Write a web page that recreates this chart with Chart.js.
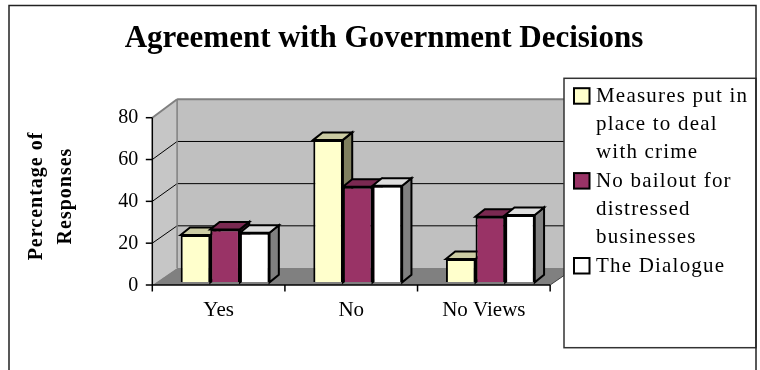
<!DOCTYPE html>
<html>
<head>
<meta charset="utf-8">
<script src="https://cdn.jsdelivr.net/npm/chart.js@4/dist/chart.umd.min.js"></script>
<style>
  html, body { margin: 0; padding: 0; background: #ffffff; }
  canvas { display: block; }
</style>
</head>
<body>
<canvas id="chart" width="760" height="370"></canvas>
<script>
// ---- data ----
const chartTitle = 'Agreement with Government Decisions';
const axisTitleLines = ['Percentage of', 'Responses'];
const categories = ['Yes', 'No', 'No Views'];
const yTicks = [0, 20, 40, 60, 80];
const crimeMeasures = [22.6, 68.1, 11.1];
const noBailout = [25.3, 45.7, 31.4];
const dialogue = [23.7, 46.2, 32.2];
const seriesNames = [
  ['Measures put in', 'place to deal', 'with crime'],
  ['No bailout for', 'distressed', 'businesses'],
  ['The Dialogue']
];

// ---- styles ----
const SERIF = '"Liberation Serif", "Times New Roman", Times, serif';
const faceColors = ['#FFFFCC', '#993366', '#FFFFFF'];
const topColors = ['#CCCCA3', '#7A2951', '#DEDEDE'];
const sideColors = ['#80805F', '#4D1A33', '#808080'];

const DEPTH_X = 9.3, DEPTH_Y = -7.5;   // extrusion of each column
const FRONT_DX = -6.5, FRONT_DY = 2.7; // front plane of the box relative to the columns
const BACK_DX = 18.3;                  // back wall relative to the columns

function poly(ctx, pts, fill, stroke, lw) {
  ctx.beginPath();
  ctx.moveTo(pts[0][0], pts[0][1]);
  for (let i = 1; i < pts.length; i++) ctx.lineTo(pts[i][0], pts[i][1]);
  ctx.closePath();
  if (fill) { ctx.fillStyle = fill; ctx.fill(); }
  if (stroke) { ctx.strokeStyle = stroke; ctx.lineWidth = lw || 1; ctx.stroke(); }
}
function line(ctx, x1, y1, x2, y2, color, lw) {
  ctx.beginPath();
  ctx.moveTo(x1, y1);
  ctx.lineTo(x2, y2);
  ctx.strokeStyle = color;
  ctx.lineWidth = lw;
  ctx.stroke();
}

const box3d = {
  id: 'box3d',
  beforeDraw(chart) {
    const ctx = chart.ctx;
    ctx.save();
    ctx.fillStyle = '#ffffff';
    ctx.fillRect(0, 0, chart.width, chart.height);
    ctx.restore();
  },
  beforeDatasetsDraw(chart) {
    const ctx = chart.ctx, xs = chart.scales.x, ys = chart.scales.y, a = chart.chartArea;
    const vMax = yTicks[yTicks.length - 1];
    const fy = v => ys.getPixelForValue(v) + FRONT_DY;
    const by = v => ys.getPixelForValue(v) - 14.3 - 1.4 * v / vMax;
    const fL = a.left + FRONT_DX, fR = a.right + FRONT_DX;
    const bL = a.left + BACK_DX, bR = a.right + BACK_DX;
    ctx.save();

    // walls and floor
    poly(ctx, [[bL, by(vMax)], [bR, by(vMax)], [bR, by(0)], [bL, by(0)]], '#C0C0C0');
    poly(ctx, [[fL, fy(vMax)], [bL, by(vMax)], [bL, by(0)], [fL, fy(0)]], '#C6C6C6');
    poly(ctx, [[fL, fy(0)], [bL, by(0)], [bR, by(0)], [fR, fy(0)]], '#808080');

    // gridlines across side wall and back wall
    yTicks.slice(1, -1).forEach(v => {
      line(ctx, fL, fy(v), bL, by(v), '#000000', 1);
      line(ctx, bL, by(v), bR, by(v), '#000000', 1);
    });
    // wall edges
    line(ctx, fL, fy(vMax), bL, by(vMax), '#808080', 2);
    line(ctx, bL, by(vMax), bR, by(vMax), '#808080', 2);
    line(ctx, bL, by(vMax), bL, by(0), '#808080', 1.5);
    line(ctx, fR, fy(0), bR, by(0), '#404040', 1);

    // value axis
    line(ctx, fL, fy(0), fL, fy(vMax), '#000000', 1.5);
    yTicks.forEach(v => line(ctx, fL - 6.5, fy(v), fL, fy(v), '#000000', 1.5));
    // category axis
    line(ctx, fL, fy(0), fR, fy(0), '#000000', 1.5);
    const catW = (a.right - a.left) / categories.length;
    for (let i = 0; i <= categories.length; i++) {
      const x = fL + i * catW;
      line(ctx, x, fy(0), x, fy(0) + 6.5, '#000000', 1.5);
    }

    // column tops and sides, left to right inside each group
    ctx.lineJoin = 'miter';
    categories.forEach((c, i) => {
      chart.data.datasets.forEach((ds, d) => {
        const el = chart.getDatasetMeta(d).data[i];
        const p = el.getProps(['x', 'y', 'base', 'width'], true);
        const l = p.x - p.width / 2, r = p.x + p.width / 2;
        poly(ctx, [[r, p.y], [r + DEPTH_X, p.y + DEPTH_Y], [r + DEPTH_X, p.base + DEPTH_Y], [r, p.base]],
          sideColors[d], '#000000', 2);
        poly(ctx, [[l, p.y], [l + DEPTH_X, p.y + DEPTH_Y], [r + DEPTH_X, p.y + DEPTH_Y], [r, p.y]],
          topColors[d], '#000000', 2);
      });
    });
    ctx.restore();
  },
  afterDraw(chart) {
    const ctx = chart.ctx, xs = chart.scales.x, ys = chart.scales.y, a = chart.chartArea;
    const fy = v => ys.getPixelForValue(v) + FRONT_DY;
    const fL = a.left + FRONT_DX;
    ctx.save();
    ctx.fillStyle = '#000000';

    // tick labels
    ctx.font = '20px ' + SERIF;
    ctx.textAlign = 'right';
    ctx.textBaseline = 'alphabetic';
    yTicks.forEach(v => ctx.fillText(String(v), fL - 14, fy(v) + 5.5));

    // category labels
    ctx.font = '21px ' + SERIF;
    ctx.textAlign = 'center';
    categories.forEach((c, i) => ctx.fillText(c, xs.getPixelForValue(i) + FRONT_DX, 316));

    // title
    ctx.font = 'bold 31px ' + SERIF;
    ctx.fillText(chartTitle, 384, 47);

    // value axis title
    ctx.font = 'bold 20px ' + SERIF;
    ctx.letterSpacing = '1px';
    const titleX = [42, 71];
    axisTitleLines.forEach((t, k) => {
      ctx.save();
      ctx.translate(titleX[k], 196);
      ctx.rotate(-Math.PI / 2);
      ctx.fillText(t, 0, 0);
      ctx.restore();
    });

    // legend
    const lx = 564, ly = 78.3, lr = 756, lb = 347.7;
    ctx.fillStyle = '#ffffff';
    ctx.fillRect(lx, ly, lr - lx, lb - ly);
    ctx.strokeStyle = '#333333';
    ctx.lineWidth = 1.5;
    ctx.strokeRect(lx, ly, lr - lx, lb - ly);
    ctx.font = '21px ' + SERIF;
    ctx.letterSpacing = '1.2px';
    ctx.textAlign = 'left';
    let row = 0;
    chart.data.datasets.forEach((ds, d) => {
      const base = 101.7 + row * 28.3;
      ctx.fillStyle = ds.backgroundColor;
      ctx.fillRect(574, base - 13.5, 15.5, 15.5);
      ctx.strokeStyle = '#000000';
      ctx.lineWidth = 2;
      ctx.strokeRect(574, base - 13.5, 15.5, 15.5);
      ctx.fillStyle = '#000000';
      seriesNames[d].forEach((t, k) => ctx.fillText(t, 596, base + k * 28.3));
      row += seriesNames[d].length;
    });

    // outer frame
    ctx.strokeStyle = '#222222';
    ctx.lineWidth = 1.5;
    ctx.strokeRect(9, 5.5, 747, 380);
    ctx.restore();
  }
};

new Chart(document.getElementById('chart'), {
  type: 'bar',
  data: {
    labels: categories,
    datasets: [
      { label: seriesNames[0].join(' '), data: crimeMeasures, backgroundColor: faceColors[0] },
      { label: seriesNames[1].join(' '), data: noBailout, backgroundColor: faceColors[1] },
      { label: seriesNames[2].join(' '), data: dialogue, backgroundColor: faceColors[2] }
    ]
  },
  options: {
    responsive: false,
    animation: false,
    events: [],
    layout: { padding: { left: 158.8, right: 203.35, top: 115, bottom: 87.7 } },
    datasets: {
      bar: { borderColor: '#000000', borderWidth: 2, categoryPercentage: 0.67, barPercentage: 1 }
    },
    scales: {
      x: { display: false },
      y: { display: false, min: 0, max: 80 }
    },
    plugins: {
      legend: { display: false },
      title: { display: false },
      tooltip: { enabled: false }
    }
  },
  plugins: [box3d]
});
</script>
</body>
</html>
